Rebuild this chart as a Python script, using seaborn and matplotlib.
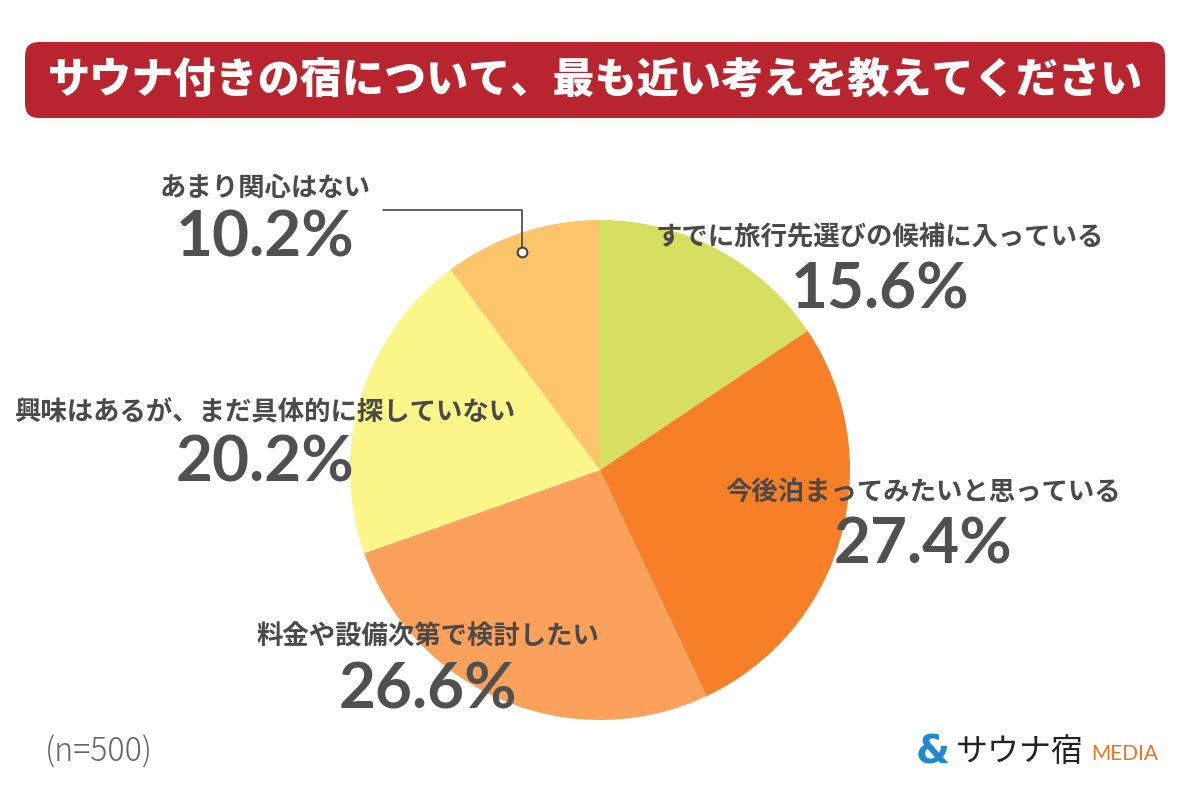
import seaborn as sb
import matplotlib.pyplot as plt
from matplotlib.patches import FancyBboxPatch

labels = ["すでに旅行先選びの候補に入っている", "今後泊まってみたいと思っている",
          "料金や設備次第で検討したい", "興味はあるが、まだ具体的に探していない",
          "あまり関心はない"]
values = [15.6, 27.4, 26.6, 20.2, 10.2]
colors = ["#D6DF60", "#F67F27", "#FBA15B", "#FDF68B", "#FDC56B"]
title = "サウナ付きの宿について、最も近い考えを教えてください"

sb.set_theme(style="white")
plt.rcParams['font.family'] = ['Noto Sans CJK JP', 'DejaVu Sans']

fig = plt.figure(figsize=(12, 8), dpi=100)
ax = fig.add_axes([0, 0, 1, 1])
ax.set_xlim(0, 1200)
ax.set_ylim(0, 800)
ax.axis("off")

# title banner
ax.add_patch(FancyBboxPatch((25, 800 - 118), 1140, 76,
                            boxstyle="round,pad=0,rounding_size=14",
                            fc="#B8252F", ec="none"))
ax.text(595, 800 - 80, title, color="white", fontsize=30.3, fontweight="heavy",
        ha="center", va="center")

# pie
ax.pie(values, colors=colors, startangle=90, counterclock=False,
       center=(600, 330), radius=250, wedgeprops=dict(linewidth=0))
ax.set_aspect("equal")
ax.set_xlim(0, 1200)
ax.set_ylim(0, 800)

txt = "#4A4A4A"
# label positions (center x, label y, pct y)
pos = [(880, 238, 290), (923, 492, 545), (428, 637, 690), (265, 412, 463), (265, 188, 238)]
for lab, v, (x, ly, py) in zip(labels, values, pos):
    ax.text(x, 800 - ly, lab, color=txt, fontsize=19, fontweight="bold",
            ha="center", va="center")
    ax.text(x, 800 - py, f"{v}%", color="#505050", fontsize=46, fontweight="bold",
            ha="center", va="center", family=["Lato", "DejaVu Sans"])

# leader line for the small slice
ax.plot([383, 522, 522], [800 - 210, 800 - 210, 800 - 250], color="#444444", lw=1.2)
ax.plot([522], [800 - 252], marker="o", ms=7, mfc="white", mec="#444444", mew=1.5)

ax.text(45, 800 - 752, "(n=500)", color="#666666", fontsize=23, ha="left",
        va="center", fontweight="light")

# logo
ax.text(933, 800 - 752, "&", color="#1E88D0", fontsize=28, fontweight="bold",
        ha="center", va="center", family=["DejaVu Sans"])
ax.text(956, 800 - 752, "サウナ宿", color="#222222", fontsize=23, ha="left", va="center")
ax.text(1125, 800 - 754, "MEDIA", color="#E8781E", fontsize=15, ha="center", va="center",
        family=["Lato", "DejaVu Sans"])

fig.savefig("out.png", dpi=100, facecolor="white")
